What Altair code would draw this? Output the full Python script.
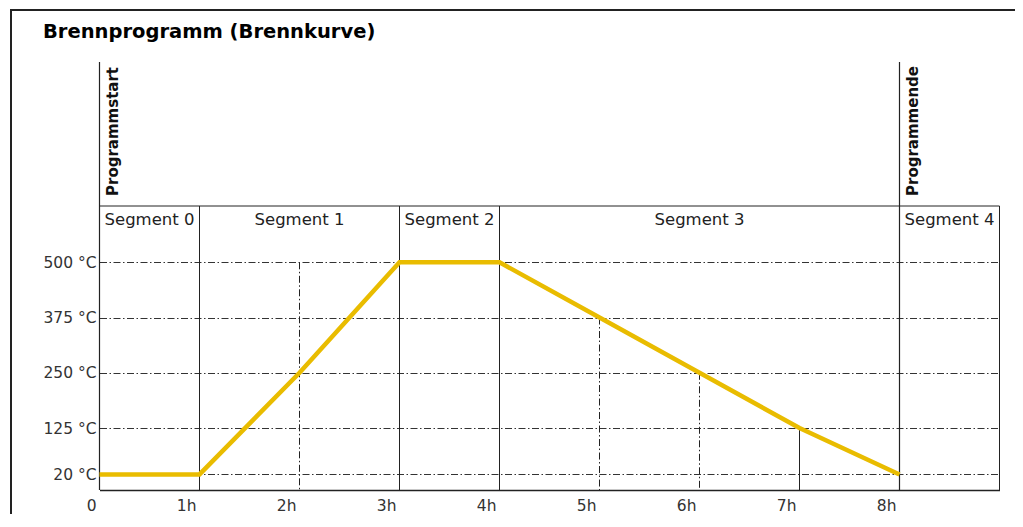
import altair as alt
import pandas as pd

# ---- data ----
curve_hours = [0, 1, 2, 3, 4, 5, 6, 7, 8]
curve_temps = [20, 20, 250, 500, 500, 375, 250, 125, 20]

temp_ticks = [20, 125, 250, 375, 500]
hour_ticks = [0, 1, 2, 3, 4, 5, 6, 7, 8]

segment_bounds = [0, 1, 3, 4, 8, 9]
segment_names = ["Segment 0", "Segment 1", "Segment 2", "Segment 3", "Segment 4"]

marker_hours = [0, 8]
marker_names = ["Programmstart", "Programmende"]

dashdot_hours = [2, 5, 6]
dashdot_tops = [500, 375, 250]
solid_hours = [7]
solid_tops = [125]

title_text = "Brennprogramm (Brennkurve)"

# ---- styling ----
FONT = "DejaVu Sans"
INK = "#222222"
DASH = [7, 2.5, 1.5, 2.5]
W, H = 900, 428
BOX_TOP = 144

xs = alt.Scale(domain=[segment_bounds[0], segment_bounds[-1]], nice=False, zero=False)
ys = alt.Scale(domain=[-15.2, 953.2], nice=False, zero=False)

curve_df = pd.DataFrame({"h": curve_hours, "t": curve_temps})
dash_df = pd.DataFrame({"h": dashdot_hours, "t": dashdot_tops})
solid_df = pd.DataFrame({"h": solid_hours, "t": solid_tops})
inner_df = pd.DataFrame({"h": [b for b in segment_bounds if b not in marker_hours]})
marker_df = pd.DataFrame({"h": marker_hours, "name": marker_names})
seg_df = pd.DataFrame({
    "mid": [(a + b) / 2 for a, b in zip(segment_bounds[:-1], segment_bounds[1:])],
    "name": segment_names,
})
title_df = pd.DataFrame({"t": [title_text]})

x_axis = alt.Axis(
    values=hour_ticks,
    labelExpr="datum.value == 0 ? '0' : datum.value + 'h'",
    ticks=False, tickSize=0, labelPadding=20, labelBaseline="alphabetic",
    labelAlign="right", labelOffset=-3.5, labelFont=FONT, labelFontSize=15.5,
    labelColor="#333333", domain=True, domainColor=INK, domainWidth=1.5,
    grid=False, title=None, labelFlush=False, labelOverlap=False,
)
y_axis = alt.Axis(
    values=temp_ticks,
    labelExpr="datum.value + ' °C'",
    ticks=False, tickSize=0, labelPadding=3.5, labelBaseline="middle",
    labelFont=FONT, labelFontSize=15.5, labelColor="#333333",
    domain=False, grid=True, gridDash=DASH, gridColor="#333333", gridWidth=1,
    title=None, labelOverlap=False,
)


def X(field):
    return alt.X(field, scale=xs, axis=x_axis)


def Y(field):
    return alt.Y(field, scale=ys, axis=y_axis)


curve = alt.Chart(curve_df).mark_line(
    color="#E9BC00", strokeWidth=4.5, strokeJoin="miter"
).encode(x=X("h:Q"), y=Y("t:Q"))

dash_rules = alt.Chart(dash_df).mark_rule(
    color=INK, strokeWidth=1, strokeDash=DASH
).encode(x=X("h:Q"), y=Y("t:Q"), y2=alt.value(H))

solid_rules = alt.Chart(solid_df).mark_rule(color=INK, strokeWidth=1).encode(
    x=X("h:Q"), y=Y("t:Q"), y2=alt.value(H)
)

inner_rules = alt.Chart(inner_df).mark_rule(color=INK, strokeWidth=1).encode(
    x=X("h:Q"), y=alt.value(BOX_TOP), y2=alt.value(H)
)

marker_rules = alt.Chart(marker_df).mark_rule(color=INK, strokeWidth=1.2).encode(
    x=X("h:Q"), y=alt.value(0), y2=alt.value(H)
)

box_top = alt.Chart(title_df).mark_rule(color=INK, strokeWidth=1).encode(
    x=alt.X(datum=segment_bounds[0], scale=xs, axis=x_axis),
    x2=alt.X2(datum=segment_bounds[-1]),
    y=alt.value(BOX_TOP),
)

seg_labels = alt.Chart(seg_df).mark_text(
    font=FONT, fontSize=16.5, color=INK, align="center", baseline="alphabetic"
).encode(x=X("mid:Q"), y=alt.value(163), text="name:N")

marker_labels = alt.Chart(marker_df).mark_text(
    font=FONT, fontSize=15, fontWeight="bold", color="#111111",
    align="left", baseline="alphabetic", angle=270, dy=18,
).encode(x=X("h:Q"), y=alt.value(134), text="name:N")

title = alt.Chart(title_df).mark_text(
    font=FONT, fontSize=19.5, fontWeight="bold", color="#000000",
    align="left", baseline="alphabetic",
).encode(x=alt.value(-56.5), y=alt.value(-24.5), text="t:N")

frame_top = alt.Chart(title_df).mark_rule(color=INK, strokeWidth=2).encode(
    x=alt.value(-89.5), x2=alt.value(920), y=alt.value(-52)
)
frame_left = alt.Chart(title_df).mark_rule(color=INK, strokeWidth=2).encode(
    x=alt.value(-88.5), y=alt.value(-53), y2=alt.value(470)
)

chart = alt.layer(
    frame_top, frame_left, title,
    dash_rules, solid_rules, inner_rules, marker_rules, box_top,
    seg_labels, marker_labels, curve,
).properties(
    width=W, height=H,
    autosize=alt.AutoSizeParams(type="none"),
    padding={"left": 91.5, "top": 54, "right": 15, "bottom": 24},
).configure_view(stroke=None)

chart.save("out.html", embed_options={"renderer": "svg", "actions": False})
